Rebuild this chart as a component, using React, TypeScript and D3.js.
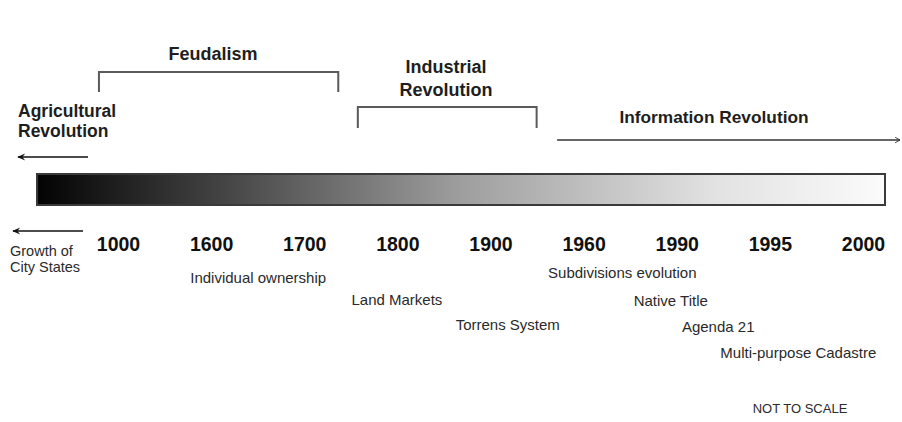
import React from "react";
import * as d3 from "d3";

const years = ["1000", "1600", "1700", "1800", "1900", "1960", "1990", "1995", "2000"];

// events: label, position on the year index axis (fractional), tier below the years
const eventLabels = [
  "Individual ownership",
  "Land Markets",
  "Torrens System",
  "Subdivisions evolution",
  "Native Title",
  "Agenda 21",
  "Multi-purpose Cadastre",
];
const eventAt = [1.5, 2.99, 4.18, 5.41, 5.93, 6.44, 7.3];
const eventTier = [0.15, 1, 1.95, -0.05, 1.05, 2.05, 3.05];

// brackets for eras (start/end in year-index units)
const bracketEras = ["Feudalism", "Industrial Revolution"];
const bracketFrom = [-0.21, 2.57];
const bracketTo = [2.36, 4.49];

const W = 902;
const H = 422;
const FONT = "'Liberation Sans', Arial, Helvetica, sans-serif";

export default function App() {
  const x = d3.scaleLinear().domain([0, years.length - 1]).range([118.5, 863.5]);
  const xp = d3.scalePoint<string>().domain(years).range([118.5, 863.5]);
  const yTier = d3.scaleLinear().domain([0, 3]).range([279, 357]);

  const bracketTop = [72, 107];
  const bracketBottom = [92, 128];
  const bracketLabelY = [[60], [73, 96]];
  const bracketLabelX = [213, 446];

  return (
    <svg
      width={W}
      height={H}
      style={{ position: "absolute", left: 0, top: 0, background: "#fff" }}
      fontFamily={FONT}
    >
      <defs>
        <linearGradient id="bar" x1="0" x2="1" y1="0" y2="0">
          <stop offset="0" stopColor="#030303" />
          <stop offset="0.2" stopColor="#3e3e3e" />
          <stop offset="0.5" stopColor="#9e9e9e" />
          <stop offset="0.8" stopColor="#e2e2e2" />
          <stop offset="1" stopColor="#fbfbfb" />
        </linearGradient>
        <marker id="headL" viewBox="0 0 10 10" refX="9" refY="5" markerWidth="10" markerHeight="8" orient="auto" markerUnits="userSpaceOnUse">
          <path d="M10,5 L0,0.5 L3.5,5 L0,9.5 Z" fill="#111" />
        </marker>
        <marker id="headR" viewBox="0 0 10 10" refX="9" refY="5" markerWidth="7" markerHeight="7" orient="auto" markerUnits="userSpaceOnUse">
          <path d="M2,1 L9,5 L2,9" fill="none" stroke="#333" strokeWidth="1.3" />
        </marker>
      </defs>

      {/* brackets */}
      {bracketEras.map((name, i) => {
        const x0 = x(bracketFrom[i]);
        const x1 = x(bracketTo[i]);
        const path = d3.path();
        path.moveTo(x0, bracketBottom[i]);
        path.lineTo(x0, bracketTop[i]);
        path.lineTo(x1, bracketTop[i]);
        path.lineTo(x1, bracketBottom[i]);
        const words = name === "Feudalism" ? [name] : name.split(" ");
        return (
          <g key={name}>
            <path d={path.toString()} fill="none" stroke="#5a5a5a" strokeWidth={2} />
            {words.map((w, j) => (
              <text
                key={w}
                x={bracketLabelX[i]}
                y={bracketLabelY[i][j]}
                textAnchor="middle"
                fontSize={18}
                fontWeight="bold"
                fill="#1e1e1e"
              >
                {w}
              </text>
            ))}
          </g>
        );
      })}

      {/* Agricultural Revolution */}
      <text x={18} y={117} fontSize={17.5} fontWeight="bold" fill="#1e1e1e">Agricultural</text>
      <text x={18} y={137} fontSize={17.5} fontWeight="bold" fill="#1e1e1e">Revolution</text>
      <line x1={88} y1={157} x2={18} y2={157} stroke="#111" strokeWidth={1.5} markerEnd="url(#headL)" />

      {/* Information Revolution */}
      <text x={714} y={123} textAnchor="middle" fontSize={17.3} fontWeight="bold" fill="#1e1e1e">Information Revolution</text>
      <line x1={x(4.71)} y1={140} x2={900} y2={140} stroke="#333" strokeWidth={1.6} markerEnd="url(#headR)" />

      {/* gradient bar */}
      <rect x={37} y={174} width={848} height={31} fill="url(#bar)" stroke="#3a3a3a" strokeWidth={2} />

      {/* Growth of City States */}
      <line x1={83} y1={231} x2={13} y2={231} stroke="#111" strokeWidth={1.5} markerEnd="url(#headL)" />
      <text x={10} y={256} fontSize={14.5} fill="#2a2a2a">Growth of</text>
      <text x={10} y={272} fontSize={14.5} fill="#2a2a2a">City States</text>

      {/* years */}
      {years.map((yr) => (
        <text key={yr} x={xp(yr)} y={251} textAnchor="middle" fontSize={19.5} fontWeight="bold" fill="#111">
          {yr}
        </text>
      ))}

      {/* events */}
      {eventLabels.map((lab, i) => (
        <text key={lab} x={x(eventAt[i])} y={yTier(eventTier[i])} textAnchor="middle" fontSize={15} fill="#2a2a2a">
          {lab}
        </text>
      ))}

      <text x={800} y={413} textAnchor="middle" fontSize={13} fill="#2a2a2a">NOT TO SCALE</text>
    </svg>
  );
}
